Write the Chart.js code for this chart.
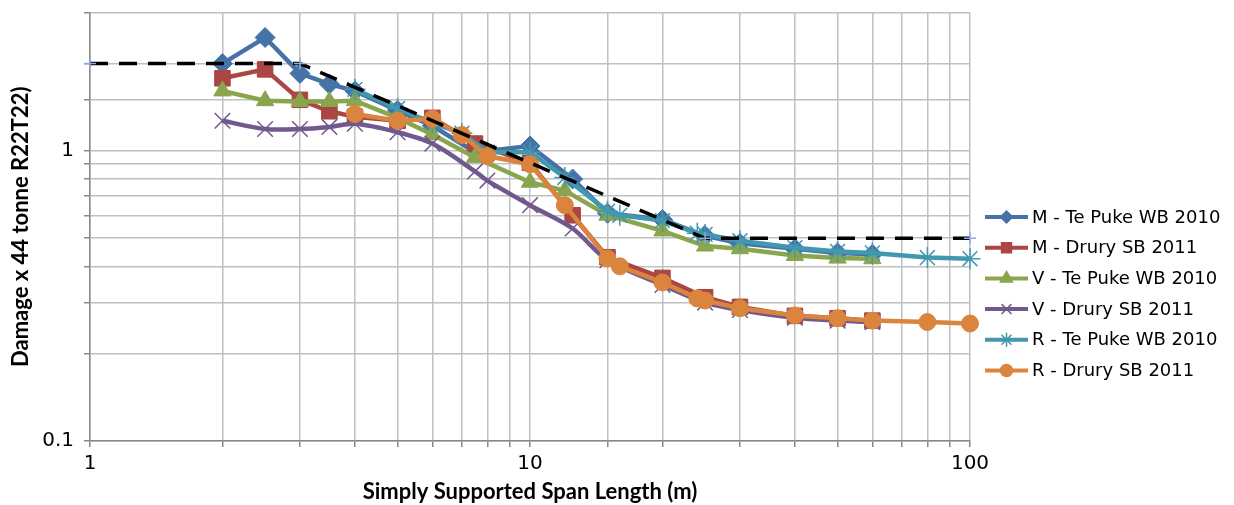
<!DOCTYPE html>
<html>
<head>
<meta charset="utf-8">
<script src="https://cdn.jsdelivr.net/npm/chart.js"></script>
<style>
  html, body { margin: 0; padding: 0; background: #fff; }
  #wrap { width: 1234px; height: 505px; }
</style>
</head>
<body>
<div id="wrap"><canvas id="chart" width="1234" height="505"></canvas></div>
<script>
// span lengths (m) used by each group of series
const spanM = [2, 2.5, 3, 3.5, 4, 5, 6, 7.5, 10, 12.5, 15, 20, 25, 30, 40, 50, 60];
const spanVTP = [2, 2.5, 3, 3.5, 4, 5, 6, 7.5, 10, 12, 15, 20, 25, 30, 40, 50, 60];
const spanVD = [2, 2.5, 3, 3.5, 4, 5, 6, 7.5, 8, 10, 12.5, 15, 20, 25, 30, 40, 50, 60];
const spanR = [4, 5, 6, 7, 8, 10, 12, 15, 16, 20, 24, 25, 30, 40, 50, 60, 80, 100];
const spanLimit = [1, 3, 25, 100];

// damage values
const mTePuke = [2.0, 2.46, 1.85, 1.70, 1.61, 1.38, 1.22, 0.99, 1.04, 0.80, 0.61, 0.58, 0.51, 0.48, 0.46, 0.445, 0.44];
const mDrury = [1.78, 1.91, 1.50, 1.37, 1.31, 1.27, 1.30, 1.06, 0.91, 0.60, 0.43, 0.365, 0.313, 0.29, 0.27, 0.265, 0.26];
const vTePuke = [1.61, 1.49, 1.48, 1.48, 1.49, 1.30, 1.14, 0.95, 0.78, 0.73, 0.60, 0.53, 0.47, 0.46, 0.436, 0.427, 0.425];
const vDrury = [1.27, 1.19, 1.19, 1.21, 1.24, 1.16, 1.06, 0.85, 0.79, 0.65, 0.54, 0.42, 0.345, 0.30, 0.283, 0.266, 0.26, 0.257];
const rTePuke = [1.63, 1.40, 1.25, 1.15, 0.99, 0.99, 0.81, 0.62, 0.60, 0.575, 0.52, 0.515, 0.49, 0.464, 0.45, 0.445, 0.429, 0.425];
const rDrury = [1.34, 1.27, 1.29, 1.135, 0.96, 0.90, 0.65, 0.426, 0.40, 0.352, 0.31, 0.305, 0.287, 0.271, 0.265, 0.26, 0.257, 0.254];
const limit = [2, 2, 0.5, 0.5];

const seriesNames = ["M - Te Puke WB 2010", "M - Drury SB 2011", "V - Te Puke WB 2010",
                     "V - Drury SB 2011", "R - Te Puke WB 2010", "R - Drury SB 2011"];
const colours = ["#4572A7", "#AA4643", "#89A54E", "#71588F", "#4198AF", "#DB843D"];
const markers = ["rectRot", "rect", "triangle", "crossRot", "star", "circle"];
const markerSize = [10, 11, 10, 11, 10.5, 8.5];
const legendSize = [6, 7, 7, 7, 7, 6];

function pts(xs, ys) {
    return xs.map((x, i) => ({ x: x, y: ys[i] }));
}

const seriesData = [
    pts(spanM, mTePuke), pts(spanM, mDrury), pts(spanVTP, vTePuke),
    pts(spanVD, vDrury), pts(spanR, rTePuke), pts(spanR, rDrury)
];

const datasets = seriesData.map((data, i) => {
    const lineMarker = markers[i] === "crossRot" || markers[i] === "star";
    return {
        label: seriesNames[i],
        data: data,
        borderColor: colours[i],
        backgroundColor: colours[i],
        borderWidth: 4.5,
        pointStyle: markers[i],
        pointRadius: markerSize[i],
        pointBorderWidth: lineMarker ? 1.5 : 1,
        pointBorderColor: colours[i],
        pointBackgroundColor: colours[i],
        tension: markers[i] === "crossRot" ? 0.3 : 0,
        clip: false,
        order: 10 - i
    };
});

datasets.push({
    label: "limit",
    data: pts(spanLimit, limit),
    borderColor: "#000",
    borderWidth: 3.5,
    borderDash: [18, 11],
    pointStyle: "cross",
    pointRadius: 6,
    pointBorderWidth: 1.5,
    pointBorderColor: "#8FAADC",
    tension: 0,
    clip: false,
    order: 0
});

// legend on the right: line with marker, like the spreadsheet legend
const sideLegend = {
    id: "sideLegend",
    afterDraw(chart) {
        const ctx = chart.ctx;
        ctx.save();
        seriesNames.forEach((name, i) => {
            const y = 217 + i * 30.7;
            ctx.strokeStyle = colours[i];
            ctx.lineWidth = 4;
            ctx.beginPath();
            ctx.moveTo(985, y);
            ctx.lineTo(1028, y);
            ctx.stroke();
            ctx.fillStyle = colours[i];
            ctx.lineWidth = 1.5;
            Chart.helpers.drawPoint(ctx, {
                pointStyle: markers[i],
                radius: legendSize[i],
                borderWidth: 1.5
            }, 1006.5, y);
            ctx.fillStyle = "#000";
            ctx.font = "18px 'DejaVu Sans'";
            ctx.textAlign = "left";
            ctx.textBaseline = "middle";
            ctx.fillText(name, 1032, y + 1);
        });
        ctx.restore();
    }
};

function decadeLabel(value) {
    const l = Math.log10(value);
    return Math.abs(l - Math.round(l)) < 1e-9 ? String(value) : "";
}

const gridColour = "#c0c0c0";

new Chart(document.getElementById("chart"), {
    type: "line",
    data: { datasets },
    options: {
        responsive: false,
        animation: false,
        layout: { padding: { top: 12, right: 264, left: 0, bottom: 0 } },
        plugins: {
            legend: { display: false },
            tooltip: { enabled: false }
        },
        scales: {
            x: {
                type: "logarithmic",
                min: 1,
                max: 100,
                afterFit: (scale) => {
                    scale.height = 64;
                    scale.paddingLeft = 0;
                    scale.paddingRight = 0;
                },
                grid: { color: gridColour, lineWidth: 1.5, tickLength: 6, tickColor: "#888" },
                border: { color: "#888", width: 1.5 },
                ticks: {
                    autoSkip: false,
                    maxRotation: 0,
                    padding: 5,
                    color: "#000",
                    font: { family: "DejaVu Sans", size: 20 },
                    callback: decadeLabel
                },
                title: {
                    display: true,
                    text: "Simply Supported Span Length (m)",
                    color: "#000",
                    font: { family: "Lato", size: 22, weight: "bold" },
                    padding: { top: 0, bottom: 0 }
                }
            },
            y: {
                type: "logarithmic",
                min: 0.1,
                max: 3,
                afterFit: (scale) => {
                    scale.width = 90;
                    scale.paddingTop = 0;
                    scale.paddingBottom = 0;
                },
                grid: { color: gridColour, lineWidth: 1.5, tickLength: 6, tickColor: "#888" },
                border: { color: "#888", width: 1.5 },
                ticks: {
                    autoSkip: false,
                    padding: 10,
                    color: "#000",
                    font: { family: "DejaVu Sans", size: 20 },
                    callback: decadeLabel
                },
                title: {
                    display: true,
                    text: "Damage x 44 tonne R22T22)",
                    color: "#000",
                    font: { family: "Lato", size: 22, weight: "bold" },
                    padding: { top: 8, bottom: 0 }
                }
            }
        }
    },
    plugins: [sideLegend]
});
</script>
</body>
</html>
